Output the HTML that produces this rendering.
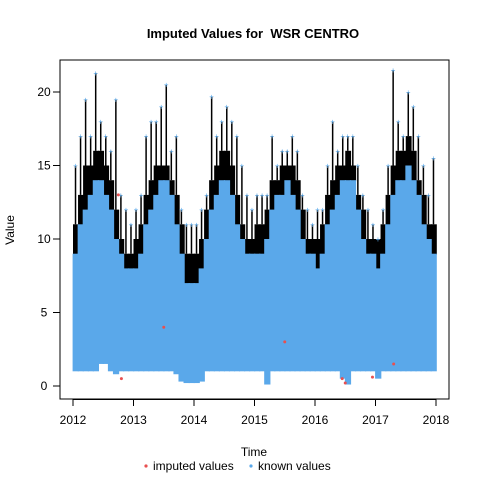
<!DOCTYPE html>
<html><head><meta charset="utf-8"><style>
body{margin:0;background:#fff;}
svg text{font-family:"Liberation Sans",sans-serif;}
</style></head><body>
<svg id="c" width="480" height="480" xmlns="http://www.w3.org/2000/svg">
<rect width="480" height="480" fill="#fff"/>
<g id="marks"></g>
<rect x="60" y="60" width="389" height="339" fill="none" stroke="#000"/>
<g id="axes"></g>
<text x="253" y="38" text-anchor="middle" font-size="13" font-weight="bold">Imputed Values for &#160;WSR CENTRO</text>
<text x="254" y="456" text-anchor="middle" font-size="12">Time</text>
<text transform="translate(14,230) rotate(-90)" text-anchor="middle" font-size="12">Value</text>
<g>
<g><circle cx="146" cy="466" r="1.6" fill="#e85050"/><text x="153" y="470" font-size="12">imputed values</text></g>
<g><circle cx="251" cy="466" r="1.6" fill="#5aa8ea"/><text x="258" y="470" font-size="12">known values</text></g>
</g>
</svg>
<script>
const peak=[15,17,19.5,17,21.3,18,17,16,19.5,13,12,11, 12,13,17,18,18,19,20.5,16,17,12,11,11, 11,12,13,19.7,17,18,19,18,17,15,13,12, 13,13,13,17,15,16,16,17,16,13,12,11, 12,12,15,18,16,17,17,17,15,13,12,11, 10,12,15,21.5,18,17,20,19,17,15,13,15.5];
const top_=[11,13,15,15,16,16,15,14,12,10,9,9, 10,11,13,14,15,15,15,14,13,11,9,9, 9,10,12,14,15,16,16,15,13,11,10,10, 11,11,12,14,14,15,15,15,14,12,10,10, 10,11,13,14,15,15,16,15,13,12,10,10, 10,11,13,15,16,16,17,16,14,13,11,11];
const blueTop=[9,11,12,13,14,14,13,12,10,9,8,8, 8,9,11,12,13,14,14,13,11,9,7,7, 7,8,10,12,13,14,14,13,11,10,9,9, 9,9,10,12,13,13,14,13,12,10,9,9, 8,9,11,12,13,14,14,14,12,10,9,9, 8,9,11,13,14,14,15,14,13,11,10,9];
const low=[1,1,1,1,1,1.5,1.5,1,0.8,1,1,1, 1,1,1,1,1,1,1,1,0.8,0.3,0.2,0.2, 0.2,0.3,1,1,1,1,1,1,1,1,1,1, 1,1,0.1,1,1,1,1,1,1,1,1,1, 1,1,1,1,1,0.5,0.1,1,1,1,1,1, 0.5,1,1,1,1,1,1,1,1,1,1,1];
const impT=[2012.75,2012.8,2013.5,2015.5,2016.45,2016.5,2016.95,2017.3];
const impV=[13,0.5,4,3,0.5,0.2,0.6,1.5];
const xTicks=[2012,2013,2014,2015,2016,2017,2018];
const yTicks=[0,5,10,15,20];
const X=t=>73+(t-2012)*60.5, Y=v=>386-v*14.7;
const NS="http://www.w3.org/2000/svg";
const g=document.getElementById('marks'), ax=document.getElementById('axes');
function mk(tag,at,par){const e=document.createElementNS(NS,tag);for(const k in at)e.setAttribute(k,at[k]);par.appendChild(e);return e;}
for(let i=0;i<peak.length;i++){
 const t0=2012+i/12, x0=X(t0), w=X(t0+1/12)-x0;
 const r1=mk('rect',{x:x0,y:Y(top_[i]),width:w+0.8,height:Y(blueTop[i])-Y(top_[i])+1,fill:'#000'},g);
 
 
 const l=mk('line',{x1:x0+w/2,x2:x0+w/2,y1:Y(peak[i]),y2:Y(top_[i]),stroke:'#000','stroke-width':1.5},g);
 
 
 const p=mk('text',{x:x0+w/2,y:Y(peak[i])+3,'text-anchor':'middle','font-size':8,fill:'#5aa8ea'},g);p.textContent='+';
 
 
}
for(let i=0;i<peak.length;i++){
 const t0=2012+i/12, x0=X(t0), w=X(t0+1/12)-x0;
 const r2=mk('rect',{x:x0-0.4,y:Y(blueTop[i]),width:w+1.2,height:Y(low[i])-Y(blueTop[i]),fill:'#5aa8ea'},g);
 
 
}
for(let i=0;i<impT.length;i++){
 const c=mk('circle',{cx:X(impT[i]),cy:Y(impV[i]),r:1.5,fill:'#e85050'},g);
 
 
}
mk('line',{x1:X(2012),x2:X(2018),y1:399.5,y2:399.5,stroke:'#000'},ax);
xTicks.forEach(t=>{mk('line',{x1:X(t),x2:X(t),y1:399,y2:406,stroke:'#000'},ax);
 const tx=mk('text',{x:X(t),y:424,'text-anchor':'middle','font-size':12},ax);tx.textContent=t;
 
 });
yTicks.forEach(v=>{mk('line',{x1:53,x2:60,y1:Y(v),y2:Y(v),stroke:'#000'},ax);
 const tx=mk('text',{x:44,y:Y(v)+4,'text-anchor':'middle','font-size':12},ax);tx.textContent=v;
 
 });
</script>
</body></html>
